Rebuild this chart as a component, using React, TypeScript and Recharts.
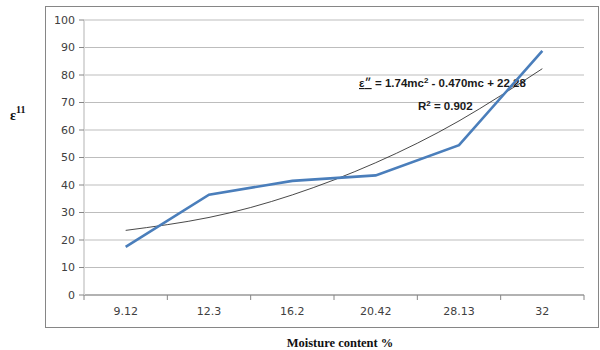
import { CartesianGrid, Customized, Label, Line, LineChart, XAxis, YAxis } from "recharts"

// moisture content categories and measured loss factor
const moisture = ["9.12", "12.3", "16.2", "20.42", "28.13", "32"]
const epsilon = [17.5, 36.5, 41.5, 43.5, 54.5, 88.8]
// polynomial trendline at each category
const trend = [23.5, 28.2, 36.4, 48.1, 63.3, 82.3]
const yTicks = [0, 10, 20, 30, 40, 50, 60, 70, 80, 90, 100]

const data = moisture.map((mc, i) => ({ mc, eps: epsilon[i], fit: trend[i] }))

const W = 600
const H = 350
const AXIS_Y = 295
const band = 500 / moisture.length

function CategoryTick(props: any) {
  const { x, payload, index } = props
  return (
    <g>
      <line x1={x - band / 2} x2={x - band / 2} y1={AXIS_Y} y2={AXIS_Y + 5} stroke="#868686" />
      {index === moisture.length - 1 && (
        <line x1={x + band / 2} x2={x + band / 2} y1={AXIS_Y} y2={AXIS_Y + 5} stroke="#868686" />
      )}
      <text x={x} y={AXIS_Y + 20} textAnchor="middle" fontSize={11} fill="#404040">
        {payload.value}
      </text>
    </g>
  )
}

function Equation() {
  return (
    <g fontFamily="Liberation Sans, Arial, sans-serif" fontWeight="bold" fontSize={11.5} fill="#1a1a1a">
      <text x={359} y={87} textDecoration="underline">ε״</text>
      <text x={375} y={87}>
        = 1.74mc<tspan dy={-4} fontSize={8}>2</tspan>
        <tspan dy={4}> - 0.470mc + 22.28</tspan>
      </text>
      <text x={418} y={110}>
        R<tspan dy={-4} fontSize={8}>2</tspan>
        <tspan dy={4}> = 0.902</tspan>
      </text>
    </g>
  )
}

export default function App() {
  return (
    <div style={{ position: "absolute", left: 0, top: 0, width: W, height: H, background: "#fff" }}>
      <div
        style={{
          position: "absolute",
          left: 45,
          top: 6,
          width: 552,
          height: 320,
          border: "1px solid #868686",
        }}
      />
      <div style={{ position: "absolute", left: 0, top: 0, fontFamily: "DejaVu Sans, Verdana, sans-serif" }}>
        <LineChart width={W} height={H} data={data} margin={{ top: 20, right: 16, bottom: 25, left: 44 }}>
          <CartesianGrid vertical={false} stroke="#bdbdbd" strokeWidth={1} />
          <XAxis
            dataKey="mc"
            height={30}
            stroke="#868686"
            tickLine={false}
            tick={<CategoryTick />}
            interval={0}
            padding={{ left: band / 2, right: band / 2 }}
          >
            <Label
              content={() => (
                <text
                  x={340}
                  y={347}
                  textAnchor="middle"
                  fontFamily="Liberation Serif, Times New Roman, serif"
                  fontWeight="bold"
                  fontSize={12.5}
                  fill="#111"
                >
                  Moisture content %
                </text>
              )}
            />
          </XAxis>
          <YAxis
            width={40}
            domain={[0, 100]}
            ticks={yTicks}
            interval={0}
            stroke="#d9d9d9"
            strokeWidth={2}
            tickLine={{ stroke: "#868686", strokeWidth: 1 }}
            tickSize={5}
            tickMargin={4}
            tick={{ fontSize: 11, fill: "#404040" }}
          >
            <Label
              content={() => (
                <text
                  x={10}
                  y={120}
                  fontFamily="Liberation Serif, Times New Roman, serif"
                  fontWeight="bold"
                  fontSize={14}
                  fill="#111"
                >
                  ε
                  <tspan dy={-7} fontSize={10}>
                    11
                  </tspan>
                </text>
              )}
            />
          </YAxis>
          <Line
            type="natural"
            dataKey="fit"
            stroke="#1a1a1a"
            strokeWidth={0.8}
            dot={false}
            activeDot={false}
            isAnimationActive={false}
          />
          <Line
            type="linear"
            dataKey="eps"
            stroke="#4a7ebb"
            strokeWidth={2.6}
            dot={false}
            activeDot={false}
            isAnimationActive={false}
          />
          <Customized component={Equation} />
        </LineChart>
      </div>
    </div>
  )
}
